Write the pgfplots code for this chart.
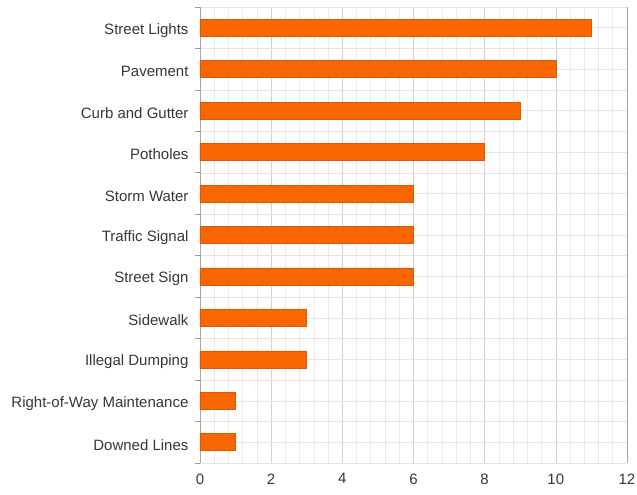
\documentclass[border=0pt]{standalone}
\usepackage{pgfplots}
\pgfplotsset{compat=1.18}
\usepackage{pgfplotstable}
\usepackage{fontspec}
\setmainfont{Liberation Sans}
\definecolor{barfill}{RGB}{250,102,0}
\definecolor{bardraw}{RGB}{215,90,10}
\definecolor{txt}{RGB}{55,55,55}
\pgfplotstableread{
pos value
10 11
9 10
8 9
7 8
6 6
5 6
4 6
3 3
2 3
1 1
0 1
}\datatable
\begin{document}
\begin{tikzpicture}
\useasboundingbox (-200pt,-32pt) rectangle (437pt,463pt);
\begin{axis}[
  scale only axis,
  width=427pt, height=456pt,
  xmin=0, xmax=12, ymin=-0.5, ymax=10.5,
  xtick={0,2,...,12},
  minor x tick num=4,
  ytick={0,...,10},
  yticklabels={Downed Lines,Right-of-Way Maintenance,Illegal Dumping,Sidewalk,Street Sign,Traffic Signal,Storm Water,Potholes,Curb and Gutter,Pavement,Street Lights},
  minor ytick={-0.5,0.5,...,10.5},
  ytick pos=left,
  xtick pos=bottom,
  tick align=outside,
  major tick length=0pt,
  minor tick length=5pt,
  minor x tick style={draw=none},
  minor y tick style={draw=gray!80, line width=0.8pt},
  grid=both,
  x grid style={line width=0.6pt},
  major x grid style={draw=gray!35},
  minor x grid style={draw=gray!16},
  major y grid style={draw=gray!18, line width=0.6pt},
  minor y grid style={draw=gray!20, line width=0.6pt},
  separate axis lines,
  x axis line style={draw=none},
  y axis line style={draw=gray!70, line width=0.8pt},
  /pgf/number format/assume math mode=true,
  tick label style={font=\fontsize{15}{18}\selectfont, text=txt},
  yticklabel style={xshift=-8pt, yshift=-2.5pt},
  xticklabel style={yshift=-7pt},
  xbar,
  bar width=17pt,
]
\addplot[fill=barfill, draw=bardraw, line width=0.6pt] table[x=value, y=pos] {\datatable};
\end{axis}
\end{tikzpicture}
\end{document}
